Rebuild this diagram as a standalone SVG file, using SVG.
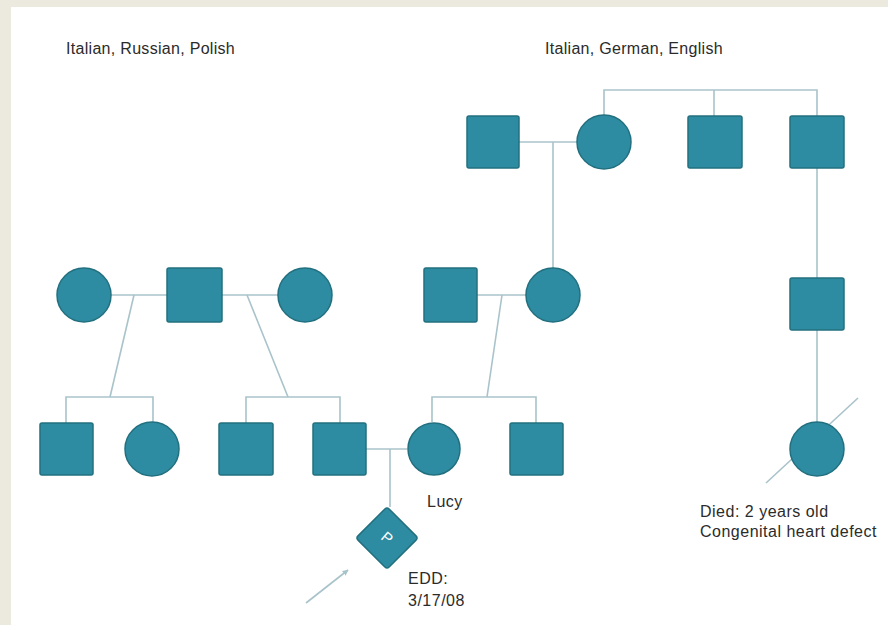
<svg xmlns="http://www.w3.org/2000/svg" width="888" height="625" viewBox="0 0 888 625">
  <style>
    .bg { fill: #ece9df; }
    .sheet { fill: #ffffff; }
    .node { fill: #2e8ca2; stroke: #22707f; stroke-width: 1.5; }
    .link { fill: none; stroke: #a9c3ca; stroke-width: 1.6; }
    .lbl { font-family: "Liberation Sans", Arial, sans-serif; font-size: 16px; letter-spacing: 0.5px; fill: #2b2b2b; }
    .top { letter-spacing: 0.3px; }
    .p { font-family: "Liberation Sans", Arial, sans-serif; font-size: 15px; fill: #ffffff; }
  </style>
  <defs>
    <marker id="ah" viewBox="0 0 10 10" refX="9" refY="5" markerWidth="6" markerHeight="6" orient="auto" markerUnits="userSpaceOnUse">
      <path d="M0,0 L10,5 L0,10 Z" fill="#a9c3ca"/>
    </marker>
  </defs>
  <rect class="bg" x="0" y="0" width="888" height="625"/>
  <rect class="sheet" x="11" y="7" width="877" height="618"/>

  <g id="labels">
    <text class="lbl top" x="66" y="54">Italian, Russian, Polish</text>
    <text class="lbl top" x="545" y="54">Italian, German, English</text>
  </g>

  <g id="connectors">
    <path class="link" d="M604 115 V90 H817 V116"/>
    <path class="link" d="M714 90 V116"/>
    <path class="link" d="M519 142 H577"/>
    <path class="link" d="M553 142 V268"/>
    <path class="link" d="M817 168 V278"/>
    <path class="link" d="M817 330 V422"/>
    <path class="link" d="M858 398 L766 483"/>
    <path class="link" d="M110 295 H167"/>
    <path class="link" d="M222 295 H278"/>
    <path class="link" d="M134 295 L110 397"/>
    <path class="link" d="M66 423 V397 H153 V422"/>
    <path class="link" d="M247 295 L288 397"/>
    <path class="link" d="M246 423 V397 H340 V423"/>
    <path class="link" d="M477 295 H526"/>
    <path class="link" d="M502 295 L487 397"/>
    <path class="link" d="M432 422 V397 H536 V423"/>
    <path class="link" d="M366 449 H407"/>
    <path class="link" d="M390 449 V507"/>
    <path class="link" d="M306 603 L348 570" marker-end="url(#ah)"/>
  </g>

  <g id="gp-m1"><rect class="node" x="467" y="116" width="52" height="52" rx="2"/></g>
  <g id="gp-f1"><circle class="node" cx="604" cy="142" r="27"/></g>
  <g id="gp-uncle1"><rect class="node" x="688" y="116" width="54" height="52" rx="2"/></g>
  <g id="gp-uncle2"><rect class="node" x="790" y="116" width="54" height="52" rx="2"/></g>

  <g id="p-f1"><circle class="node" cx="84" cy="295" r="27"/></g>
  <g id="p-m1"><rect class="node" x="167" y="268" width="55" height="54" rx="2"/></g>
  <g id="p-f2"><circle class="node" cx="305" cy="295" r="27"/></g>
  <g id="p-m2"><rect class="node" x="424" y="268" width="53" height="54" rx="2"/></g>
  <g id="p-f3"><circle class="node" cx="553" cy="295" r="27"/></g>
  <g id="p-m3"><rect class="node" x="790" y="278" width="54" height="52" rx="2"/></g>

  <g id="c-m1"><rect class="node" x="40" y="423" width="53" height="52" rx="2"/></g>
  <g id="c-f1"><circle class="node" cx="152" cy="449" r="27"/></g>
  <g id="c-m2"><rect class="node" x="219" y="423" width="54" height="52" rx="2"/></g>
  <g id="c-m3"><rect class="node" x="313" y="423" width="53" height="52" rx="2"/></g>
  <g id="lucy">
    <circle class="node" cx="434" cy="449" r="26"/>
    <text class="lbl" x="427" y="507">Lucy</text>
  </g>
  <g id="c-m4"><rect class="node" x="510" y="423" width="53" height="52" rx="2"/></g>
  <g id="c-f2">
    <circle class="node" cx="817" cy="449" r="27"/>
    <text class="lbl" x="700" y="517">Died: 2 years old</text>
    <text class="lbl" x="700" y="537">Congenital heart defect</text>
  </g>

  <g id="pregnancy">
    <rect class="node" x="365" y="516" width="44" height="44" rx="3" transform="rotate(45 387 538)"/>
    <text class="p" x="387" y="543" text-anchor="middle" transform="rotate(40 387 538)">P</text>
    <text class="lbl" x="408" y="584">EDD:</text>
    <text class="lbl" x="408" y="606">3/17/08</text>
  </g>
</svg>
